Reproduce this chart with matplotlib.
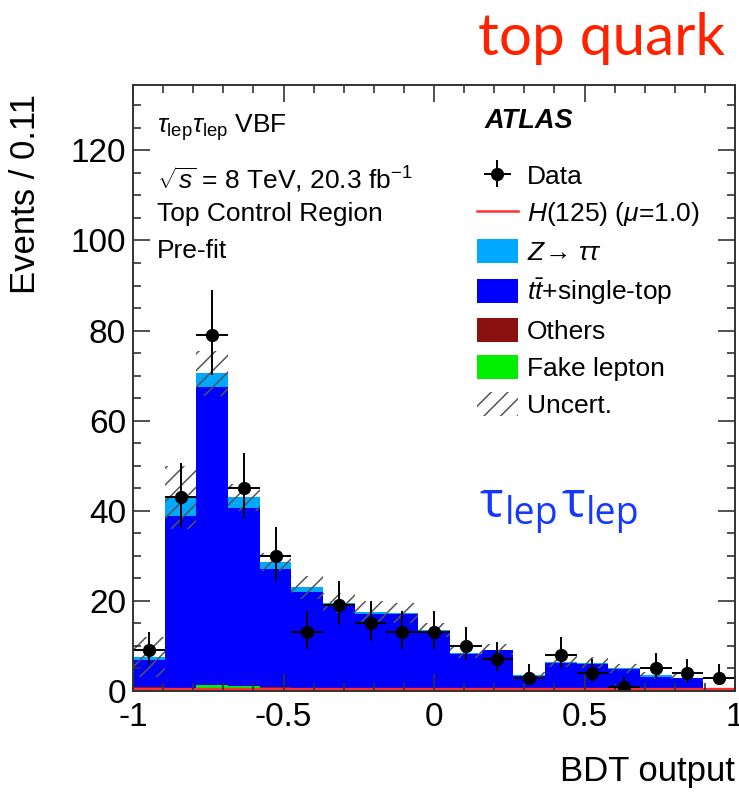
import matplotlib
matplotlib.use("Agg")
import matplotlib.pyplot as plt
import numpy as np
from matplotlib.patches import Patch
from matplotlib.lines import Line2D

plt.rcParams['font.family'] = ['Liberation Sans', 'DejaVu Sans']
plt.rcParams['mathtext.fontset'] = 'custom'
plt.rcParams['mathtext.rm'] = 'Liberation Sans'
plt.rcParams['mathtext.it'] = 'Liberation Sans:italic'
plt.rcParams['mathtext.bf'] = 'Liberation Sans:bold'
plt.rcParams['hatch.linewidth'] = 1.1

# 19 bins of BDT output between -1 and 1
n_bins = 19
edges = np.linspace(-1, 1, n_bins + 1)

data = [9, 43, 79, 45, 30, 13, 19, 15, 13, 13, 10, 7, 3, 8, 4, 1, 5, 4, 3]
data_up = [4.1, 7.6, 9.9, 7.8, 6.5, 4.7, 5.4, 4.9, 4.7, 4.7, 4.3, 3.8, 2.9, 4.0, 3.2, 2.3, 3.4, 3.2, 2.9]
data_dn = [2.9, 6.6, 8.9, 6.7, 5.5, 3.6, 4.4, 3.8, 3.6, 3.6, 3.1, 2.6, 1.6, 2.8, 1.9, 0.8, 2.2, 1.9, 1.6]

others = [0.9, 0.3, 0.7, 0.3, 0.9, 0.2, 0.2, 0.2, 0.3, 0.3, 0.2, 0.2, 0.2, 0.2, 0.2, 1.0, 0.2, 0.3, 0.0]
fake = [0.0, 0.0, 0.6, 0.8, 0.0, 0.0, 0.0, 0.0, 0.2, 0.0, 0.0, 0.0, 0.0, 0.0, 0.0, 0.0, 0.0, 0.0, 0.0]
ttbar = [6.0, 38.6, 66.2, 39.6, 26.2, 21.8, 19.1, 17.0, 16.5, 12.9, 8.0, 8.8, 3.1, 6.0, 5.9, 3.8, 3.0, 2.5, 0.0]
ztautau = [0.7, 4.1, 3.0, 2.3, 1.6, 1.0, 0.3, 0.4, 0.4, 0.3, 0.3, 0.2, 0.2, 0.3, 0.2, 0.2, 0.3, 0.2, 0.0]
higgs = [0.5, 0.5, 0.5, 0.5, 0.5, 0.5, 0.5, 0.5, 0.5, 0.5, 0.5, 0.5, 0.5, 0.5, 0.5, 0.5, 0.5, 0.5, 0.5]
uncert = [4.5, 7.0, 5.0, 3.0, 2.0, 2.5, 2.2, 2.4, 2.2, 1.5, 1.2, 1.2, 0.8, 1.2, 1.2, 1.0, 0.8, 0.8, 0.0]

xticks = [-1, -0.5, 0, 0.5, 1]
xtick_labels = ['-1', '-0.5', '0', '0.5', '1']
yticks = [0, 20, 40, 60, 80, 100, 120]

c_others = '#8b1010'
c_fake = '#00ee00'
c_ttbar = '#0000ff'
c_ztt = '#00a8ff'
c_higgs = '#ff3030'

fig = plt.figure(figsize=(7.39, 7.93), dpi=100)
ax = fig.add_axes([0.180, 0.1286, 0.8146, 0.7642])

bw = edges[1] - edges[0]
left = edges[:-1]
centers = left + bw / 2

base = np.zeros(n_bins)
for vals, col in [(others, c_others), (fake, c_fake), (ttbar, c_ttbar), (ztautau, c_ztt)]:
    ax.bar(left, vals, width=bw, bottom=base, align='edge', color=col, linewidth=0)
    base = base + np.array(vals)

total = base
unc = np.array(uncert)
ax.bar(left, 2 * unc, width=bw, bottom=total - unc, align='edge',
       facecolor='none', edgecolor='#555555', linewidth=0, hatch='//')

ax.stairs(higgs, edges, color=c_higgs, linewidth=2.4)

eb = ax.errorbar(centers, data, yerr=[data_dn, data_up], xerr=bw / 2, fmt='o',
                 color='black', ms=8.5, lw=1.4, capsize=0)

ax.set_xlim(-1, 1)
ax.set_ylim(0, 134.5)
ax.set_xticks(xticks)
ax.set_xticklabels(xtick_labels)
ax.set_yticks(yticks)
ax.set_xticks(np.arange(-1, 1.01, 0.1), minor=True)
ax.set_yticks(np.arange(0, 135, 5), minor=True)
ax.tick_params(which='both', direction='in', top=True, right=True, colors='#333333',
               labelcolor='black', labelsize=24, width=1.2)
ax.tick_params(which='major', length=12)
ax.tick_params(which='minor', length=6)
ax.tick_params(axis='x', pad=8)
ax.tick_params(axis='y', pad=5)
for s in ax.spines.values():
    s.set_color('#333333')
    s.set_linewidth(1.4)

ax.set_ylabel('Events / 0.11', fontsize=25, loc='top')
ax.yaxis.set_label_coords(-0.152, 0.985)
ax.set_xlabel('BDT output', fontsize=25, loc='right')
ax.xaxis.set_label_coords(1.0, -0.105)

handles = [eb, Line2D([], [], color=c_higgs, lw=1.8),
           Patch(color=c_ztt, linewidth=0), Patch(color=c_ttbar, linewidth=0),
           Patch(color=c_others, linewidth=0), Patch(color=c_fake, linewidth=0),
           Patch(facecolor='none', edgecolor='#555555', linewidth=0, hatch='//')]
labels = ['Data', r'$H$(125) ($\mu$=1.0)', r'$Z\!\rightarrow\,\tau\tau$', r'$t\bar{t}$+single-top',
          'Others', 'Fake lepton', 'Uncert.']
ax.legend(handles, labels, loc='upper left', bbox_to_anchor=(0.5714, 0.871), frameon=False,
          fontsize=19, borderpad=0, borderaxespad=0, handlelength=1.55, handleheight=1.0,
          handletextpad=0.34, labelspacing=0.42)

W, H = 739, 793
ax.text(0.584, 0.94, 'ATLAS', transform=ax.transAxes, fontsize=19.5, fontweight='bold',
        fontstyle='italic', va='center')
fig.text(157 / W, 1 - 133 / H, r'$\tau_{\rm lep}\tau_{\rm lep}$ VBF', fontsize=19, va='baseline')
fig.text(157 / W, 1 - 189 / H, r'$\sqrt{s}$ = 8 TeV, 20.3 fb$^{-1}$', fontsize=19, va='baseline')
fig.text(157 / W, 1 - 221 / H, 'Top Control Region', fontsize=19, va='baseline')
fig.text(157 / W, 1 - 258 / H, 'Pre-fit', fontsize=19, va='baseline')

blue = '#1438ff'
fig.text(480 / W, 1 - 517 / H, '\u03c4', fontsize=36, color=blue, family='Open Sans', va='baseline')
fig.text(505 / W, 1 - 524 / H, 'lep', fontsize=27, color=blue, family='Open Sans', va='baseline')
fig.text(561 / W, 1 - 517 / H, '\u03c4', fontsize=36, color=blue, family='Open Sans', va='baseline')
fig.text(586 / W, 1 - 524 / H, 'lep', fontsize=27, color=blue, family='Open Sans', va='baseline')

fig.text(478 / W, 1 - 55 / H, 'top quark', fontsize=42, color='#ff2200', family='Lato', va='baseline')

fig.savefig('out.png', dpi=100)
